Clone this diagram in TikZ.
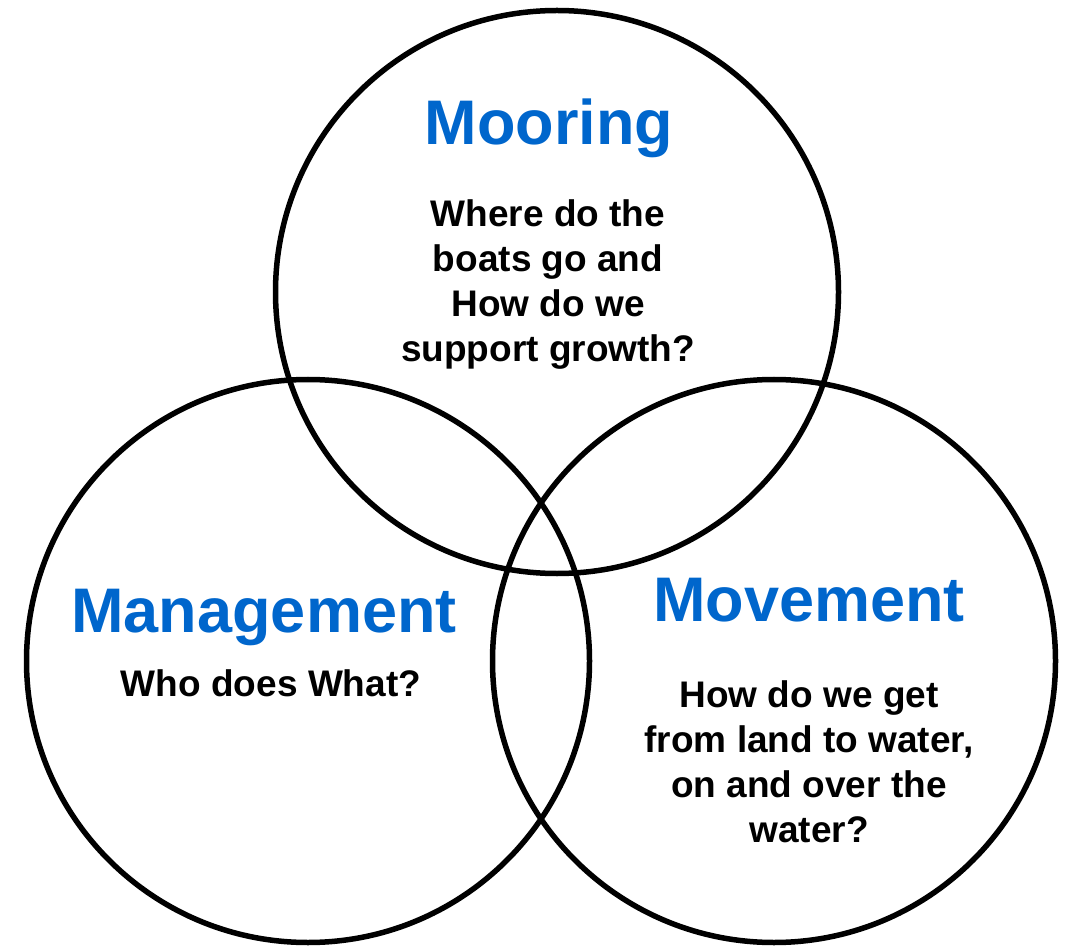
\documentclass[tikz,border=0pt]{standalone}
\usepackage{fontspec}
\setmainfont{Liberation Sans}
\usepackage{xcolor}
\definecolor{titleblue}{HTML}{0066CC}
\begin{document}
\begin{tikzpicture}[x=1pt,y=-1pt,
  ring/.style={draw=black,line width=5.5pt,circle,minimum size=563pt,inner sep=0pt},
  heading/.style={text=titleblue,font=\bfseries\fontsize{63}{63}\selectfont,anchor=base,inner sep=0pt},
  question/.style={text=black,font=\bfseries\fontsize{37}{45}\selectfont,align=center,anchor=base,inner sep=0pt}]
\useasboundingbox (0,0) rectangle (1071,949);
\node[ring] (mooringring) at (557,292) {};
\node[ring] (managementring) at (308,661) {};
\node[ring] (movementring) at (774,661) {};
\node[heading] (mooring) at (549,145) {Mooring};
\node[question] (mooringq) at (548,362) {Where do the\\boats go and\\How do we\\support growth?};
\node[heading] (management) at (264,632) {Management};
\node[question] (managementq) at (271,696) {Who does What?};
\node[heading] (movement) at (809,621) {Movement};
\node[question] (movementq) at (809,842) {How do we get\\from land to water,\\on and over the\\water?};
\end{tikzpicture}
\end{document}
